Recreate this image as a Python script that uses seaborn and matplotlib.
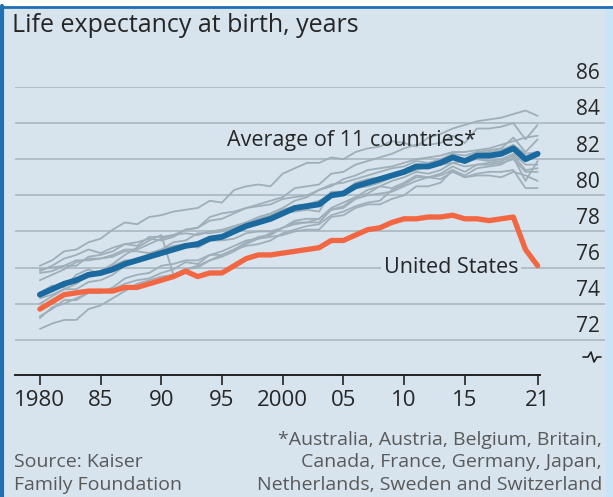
import numpy as np
import pandas as pd
import matplotlib.pyplot as plt
import seaborn as sns
from matplotlib.patches import Rectangle
from matplotlib.lines import Line2D

# データ
years = list(range(1980, 2022))

us = [73.7, 74.1, 74.5, 74.6, 74.7, 74.7, 74.7, 74.9, 74.9, 75.1,
      75.3, 75.5, 75.8, 75.5, 75.7, 75.7, 76.1, 76.5, 76.7, 76.7,
      76.8, 76.9, 77.0, 77.1, 77.5, 77.5, 77.8, 78.1, 78.2, 78.5,
      78.7, 78.7, 78.8, 78.8, 78.9, 78.7, 78.7, 78.6, 78.7, 78.8,
      77.0, 76.1]

average = [74.5, 74.8, 75.1, 75.3, 75.6, 75.7, 75.9, 76.2, 76.4, 76.6,
           76.8, 77.0, 77.2, 77.3, 77.6, 77.7, 78.0, 78.3, 78.5, 78.7,
           79.0, 79.3, 79.4, 79.5, 80.0, 80.1, 80.5, 80.7, 80.9, 81.1,
           81.3, 81.6, 81.6, 81.8, 82.1, 81.9, 82.2, 82.2, 82.3, 82.6,
           82.0, 82.3]

japan = [76.1, 76.4, 76.9, 77.0, 77.4, 77.6, 78.1, 78.5, 78.4, 78.8,
         78.9, 79.1, 79.2, 79.3, 79.7, 79.6, 80.3, 80.5, 80.6, 80.5,
         81.2, 81.5, 81.8, 81.8, 82.1, 82.0, 82.4, 82.6, 82.7, 83.0,
         82.9, 82.7, 83.2, 83.4, 83.7, 83.9, 84.1, 84.2, 84.3, 84.5,
         84.7, 84.4]
switzerland = [75.7, 75.8, 76.1, 76.1, 76.6, 76.7, 76.9, 77.3, 77.4, 77.6,
               77.5, 77.7, 78.1, 78.2, 78.6, 78.7, 79.0, 79.3, 79.5, 79.7,
               79.9, 80.4, 80.5, 80.6, 81.2, 81.3, 81.7, 81.9, 82.1, 82.3,
               82.6, 82.8, 82.8, 82.9, 83.3, 82.9, 83.7, 83.7, 83.8, 84.0,
               83.1, 83.9]
sweden = [75.8, 76.1, 76.5, 76.7, 77.0, 76.8, 77.1, 77.3, 77.2, 77.7,
          77.7, 77.8, 78.1, 78.2, 78.8, 79.0, 79.1, 79.3, 79.4, 79.5,
          79.8, 79.9, 80.0, 80.3, 80.6, 80.7, 80.9, 81.1, 81.3, 81.5,
          81.6, 81.9, 81.8, 82.0, 82.3, 82.2, 82.4, 82.5, 82.6, 83.2,
          82.4, 83.1]
australia = [74.6, 75.0, 74.9, 75.6, 75.9, 75.6, 76.1, 76.4, 76.4, 76.7,
             77.0, 77.4, 77.5, 77.9, 77.9, 78.0, 78.2, 78.5, 78.8, 79.0,
             79.3, 79.7, 79.9, 80.3, 80.5, 80.9, 81.1, 81.4, 81.5, 81.6,
             81.8, 82.0, 82.1, 82.2, 82.4, 82.4, 82.5, 82.6, 82.8, 83.0,
             83.2, 83.3]
canada = [75.3, 75.6, 75.9, 76.3, 76.5, 76.5, 76.7, 77.0, 77.0, 77.3,
          77.6, 77.8, 77.9, 77.8, 78.0, 78.1, 78.3, 78.5, 78.7, 78.9,
          79.2, 79.4, 79.5, 79.7, 80.0, 80.1, 80.4, 80.5, 80.7, 81.0,
          81.2, 81.4, 81.6, 81.7, 81.8, 81.9, 82.0, 81.9, 82.0, 82.3,
          81.7, 81.7]
france = [74.3, 74.5, 74.8, 74.8, 75.2, 75.3, 75.6, 76.1, 76.4, 76.5,
          76.9, 77.1, 77.3, 77.3, 77.7, 77.8, 78.0, 78.4, 78.5, 78.6,
          79.0, 79.1, 79.2, 79.1, 80.2, 80.2, 80.7, 80.9, 81.0, 81.1,
          81.3, 81.7, 81.6, 81.8, 82.3, 81.9, 82.3, 82.4, 82.5, 82.8,
          82.3, 82.4]
netherlands = [75.9, 76.0, 76.1, 76.4, 76.4, 76.5, 76.6, 76.9, 76.9, 76.8,
               77.0, 77.2, 77.3, 77.1, 77.5, 77.5, 77.6, 77.9, 78.0, 78.0,
               78.2, 78.4, 78.5, 78.7, 79.3, 79.6, 79.9, 80.3, 80.5, 80.8,
               81.0, 81.3, 81.2, 81.4, 81.8, 81.6, 81.7, 81.8, 81.9, 82.2,
               81.4, 81.5]
germany = [74.0, 74.4, 74.8, 75.1, 75.6, 75.8, 76.2, 76.7, 77.1, 77.5,
           77.8, 75.6, 75.9, 76.0, 76.4, 76.6, 76.9, 77.3, 77.6, 77.9,
           78.2, 78.5, 78.5, 78.5, 79.2, 79.3, 79.8, 80.0, 80.1, 80.2,
           80.5, 80.8, 81.0, 80.9, 81.3, 81.0, 81.1, 81.1, 81.0, 81.3,
           81.1, 80.8]
britain = [73.2, 73.8, 74.0, 74.3, 74.6, 74.6, 74.8, 75.1, 75.3, 75.4,
           75.7, 75.9, 76.3, 76.2, 76.7, 76.7, 77.0, 77.2, 77.3, 77.5,
           77.9, 78.1, 78.3, 78.4, 78.9, 79.1, 79.4, 79.6, 79.7, 80.3,
           80.6, 81.0, 81.0, 81.1, 81.4, 81.0, 81.2, 81.3, 81.3, 81.4,
           80.4, 80.4]
belgium = [73.3, 73.7, 74.2, 74.2, 74.6, 74.6, 74.9, 75.4, 75.6, 75.7,
           76.1, 76.2, 76.4, 76.4, 76.7, 76.9, 77.2, 77.5, 77.6, 77.7,
           77.8, 78.0, 78.1, 78.1, 78.8, 78.9, 79.3, 79.5, 79.5, 79.8,
           80.0, 80.5, 80.5, 80.7, 81.4, 81.1, 81.5, 81.6, 81.7, 82.1,
           80.8, 81.9]
austria = [72.6, 72.9, 73.1, 73.1, 73.7, 73.9, 74.3, 74.7, 75.1, 75.3,
           75.5, 75.6, 75.9, 76.1, 76.4, 76.7, 77.0, 77.4, 77.7, 77.8,
           78.2, 78.6, 78.7, 78.7, 79.2, 79.4, 79.9, 80.1, 80.5, 80.4,
           80.7, 81.1, 81.0, 81.2, 81.6, 81.3, 81.7, 81.7, 81.8, 82.0,
           81.3, 81.3]

countries = {
    'Japan': japan, 'Switzerland': switzerland, 'Sweden': sweden,
    'Australia': australia, 'Canada': canada, 'France': france,
    'Netherlands': netherlands, 'Germany': germany, 'Britain': britain,
    'Belgium': belgium, 'Austria': austria,
}

y_ticks = [72, 74, 76, 78, 80, 82, 84, 86]
x_ticks = [1980, 1985, 1990, 1995, 2000, 2005, 2010, 2015, 2021]
x_tick_labels = ['1980', '85', '90', '95', '2000', '05', '10', '15', '21']

grey_df = pd.DataFrame([
    {'country': c, 'year': y, 'value': v}
    for c, vals in countries.items() for y, v in zip(years, vals)
])
main_df = pd.DataFrame({'year': years, 'us': us, 'average': average})

# 色
BG = '#d7e4ed'
GRID = '#a9b7c0'
GREY = '#9eafb9'
BLUE = '#1a699f'
RED = '#f26641'
TEXT = '#262626'
NOTE = '#595959'

sns.set_theme(style='white')
plt.rcParams['font.family'] = ['Open Sans', 'DejaVu Sans']

fig = plt.figure(figsize=(6.13, 4.97), dpi=100)
fig.patch.set_facecolor('white')

# 背景と枠 (zorderを負にして軸の後ろに描く)
W, H = 613, 497
fig.patches.append(Rectangle((0, 0), 606 / W, 491 / H, transform=fig.transFigure,
                             facecolor=BG, edgecolor='none', zorder=-3))
fig.patches.append(Rectangle((606 / W, 0), 7 / W, 491 / H, transform=fig.transFigure,
                             facecolor='#c8e4f5', edgecolor='none', zorder=-3))
fig.lines.append(Line2D([0, 1], [490 / H, 490 / H], transform=fig.transFigure,
                        color='#1f6fb5', lw=2, zorder=-2))
fig.lines.append(Line2D([2 / W, 2 / W], [0, 491 / H], transform=fig.transFigure,
                        color='#1f6fb5', lw=3, zorder=-2))

ax = fig.add_axes([15 / W, 1 - 375 / H, 590 / W, 288 / H])
ax.set_facecolor('none')

sns.lineplot(data=grey_df, x='year', y='value', units='country', estimator=None,
             color=GREY, lw=1.3, ax=ax, zorder=2)
sns.lineplot(data=main_df, x='year', y='average', color=BLUE, lw=4.2, ax=ax, zorder=4)
sns.lineplot(data=main_df, x='year', y='us', color=RED, lw=3.8, ax=ax, zorder=4)

ax.set_xlim(1977.95, 2026.55)
ax.set_ylim(70.05, 86)

# グリッド線と右側のラベル
for t in y_ticks:
    ax.axhline(t, color=GRID, lw=1.2, zorder=1)
    ax.text(2026.1, t + 0.15, str(t), ha='right', va='bottom', fontsize=15, color=TEXT)

for s in ['top', 'right', 'left']:
    ax.spines[s].set_visible(False)
ax.spines['bottom'].set_bounds(1977.95, 2021.2)
ax.spines['bottom'].set_color('#222222')
ax.spines['bottom'].set_linewidth(1.4)
ax.set_xticks(x_ticks)
ax.set_xticklabels(x_tick_labels, fontsize=16, color=TEXT)
ax.tick_params(axis='x', direction='out', length=7, width=1.2, color='#222222', pad=4, bottom=True)
ax.set_yticks([])
ax.set_xlabel('')
ax.set_ylabel('')

# 系列ラベル
ax.text(1995.4, 83.05, 'Average of 11 countries*', fontsize=15.5, color=TEXT, va='center')
ax.text(2019.4, 76.0, 'United States', fontsize=15.5, color=TEXT, va='center', ha='right',
        bbox=dict(facecolor=BG, edgecolor='none', pad=2))

# 軸の省略記号
fig.lines.append(Line2D(np.array([583, 588, 591, 594, 597, 601]) / W,
                        1 - np.array([357, 357, 352, 362, 357, 357]) / H,
                        transform=fig.transFigure, color='#222222', lw=1.2))

# タイトルと注記
fig.text(12 / W, 1 - 25 / H, 'Life expectancy at birth, years', fontsize=18,
         color=TEXT, va='center', ha='left')
fig.text(14 / W, 1 - 462 / H, 'Source: Kaiser', fontsize=14, color=NOTE, va='center')
fig.text(14 / W, 1 - 485 / H, 'Family Foundation', fontsize=14, color=NOTE, va='center')
fig.text(602 / W, 1 - 440 / H, '*Australia, Austria, Belgium, Britain,', fontsize=14,
         color=NOTE, va='center', ha='right')
fig.text(602 / W, 1 - 462 / H, 'Canada, France, Germany, Japan,', fontsize=14,
         color=NOTE, va='center', ha='right')
fig.text(602 / W, 1 - 485 / H, 'Netherlands, Sweden and Switzerland', fontsize=14,
         color=NOTE, va='center', ha='right')

plt.savefig('out.png', dpi=100, facecolor=fig.get_facecolor())
